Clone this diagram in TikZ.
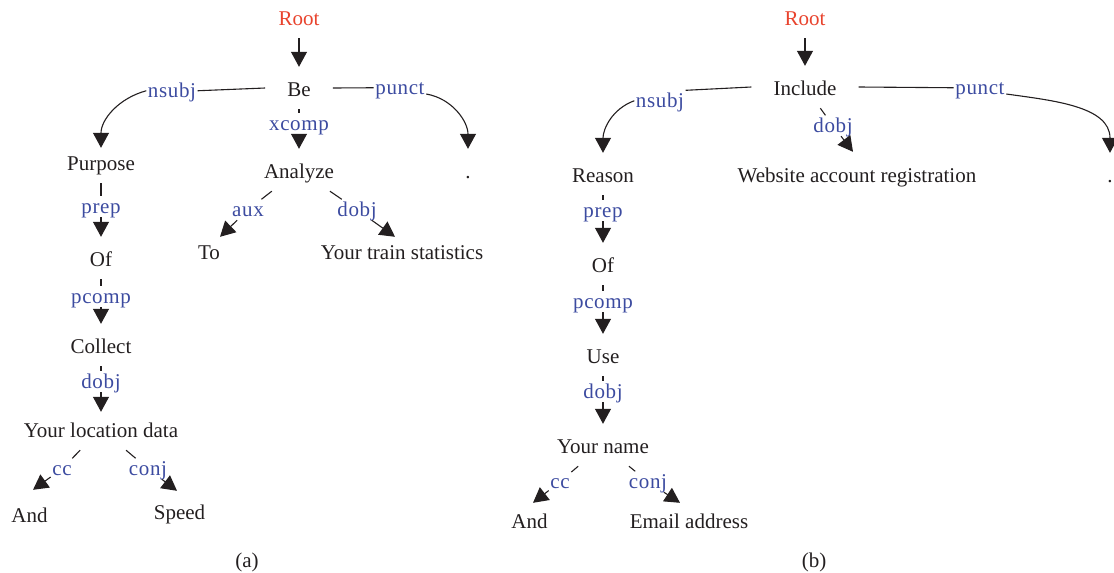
\documentclass[tikz,border=0pt]{standalone}
\usepackage{fontspec}
\setmainfont{Liberation Serif}
\newfontfamily\labfam[LetterSpace=3]{Liberation Serif}
\usetikzlibrary{arrows.meta}
\definecolor{wordc}{HTML}{231F20}
\definecolor{rootc}{HTML}{E8432D}
\definecolor{labc}{HTML}{3C4BA0}
\newcommand\wordfont{\fontsize{21}{24}\selectfont}
\newcommand\labfont{\labfam\fontsize{21}{24}\selectfont}
\tikzset{
  word/.style={font=\wordfont, text=wordc, anchor=base, text height=29pt, text depth=13pt, inner ysep=0pt, inner xsep=22pt},
  rootw/.style={word, text=rootc},
  lab/.style={font=\labfont, text=labc, anchor=base, text height=16.5pt, text depth=4pt, inner ysep=0pt, inner xsep=1.5pt},
  capt/.style={font=\wordfont, text=wordc, anchor=base, inner sep=0pt},
  dep/.style={draw=wordc, line width=1.1pt},
  arr/.style={dep, -{Triangle[length=15pt,width=16pt]}},
}
\begin{document}
\begin{tikzpicture}[x=1pt,y=-1pt]
\useasboundingbox (0,0) rectangle (1114,573);
% ---------------- panel (a)
\node[rootw] (rootA) at (299,25) {Root};
\node[word] (be) at (299,96) {Be};
\node[word] (purpose) at (101,170) {Purpose};
\node[word] (analyze) at (299,178) {Analyze};
\node[word] (dotA) at (468,178) {.};
\node[word] (ofA) at (101,266) {Of};
\node[word] (to) at (209,259) {To};
\node[word] (trainstats) at (402,259) {Your train statistics};
\node[word] (collect) at (101,353) {Collect};
\node[word] (locdata) at (101,437) {Your location data};
\node[word] (andA) at (29.5,522) {And};
\node[word] (speed) at (179.5,519) {Speed};
\node[lab] (nsubjA) at (172,97) {nsubj};
\node[lab] (punctA) at (400,94) {punct};
\node[lab] (xcomp) at (299,130) {xcomp};
\node[lab] (prepA) at (101,213) {prep};
\node[lab] (aux) at (248,216) {aux};
\node[lab] (dobjA1) at (357,216) {dobj};
\node[lab] (pcompA) at (101,303) {pcomp};
\node[lab] (dobjA2) at (101,388) {dobj};
\node[lab] (ccA) at (62,475) {cc};
\node[lab] (conjA) at (148,475) {conj};
\node[capt] (capA) at (247,567) {(a)};
\draw[arr] (rootA) -- (be.north);
\draw[dep] (be.west) -- (nsubjA.east);
\draw[arr] (nsubjA.west) to[out=195,in=90] ([shift={(0,7)}]purpose.north);
\draw[dep] (be.east) -- (punctA.west);
\draw[arr] (punctA.base east) to[out=-10,in=90] (dotA.north);
\draw[dep] (be) -- (xcomp);
\draw[arr] (xcomp) -- (analyze.north);
\draw[dep] (purpose) -- (prepA);
\draw[arr] (prepA) -- (ofA.north);
\draw[dep] (analyze) -- (aux);
\draw[arr] (aux) -- ([shift={(11,7)}]to.north);
\draw[dep] (analyze) -- (dobjA1);
\draw[arr] (dobjA1) -- ([shift={(-7,7)}]trainstats.north);
\draw[dep] (ofA) -- (pcompA);
\draw[arr] (pcompA) -- (collect.north);
\draw[dep] (collect) -- (dobjA2);
\draw[arr] (dobjA2) -- ([shift={(0,4)}]locdata.north);
\draw[dep] (locdata) -- (ccA);
\draw[arr] (ccA) -- ([shift={(3.5,-3)}]andA.north);
\draw[dep] (locdata) -- (conjA);
\draw[arr] (conjA) -- ([shift={(-2.5,1)}]speed.north);
% ---------------- panel (b)
\node[rootw] (rootB) at (805,25) {Root};
\node[word] (include) at (805,95) {Include};
\node[word] (reason) at (603,182) {Reason};
\node[word] (website) at (857,182) {Website account registration};
\node[word] (dotB) at (1110,182) {.};
\node[word] (ofB) at (603,272) {Of};
\node[word] (use) at (603,363) {Use};
\node[word] (yourname) at (603,453) {Your name};
\node[word] (andB) at (529.5,528) {And};
\node[word] (email) at (689,528) {Email address};
\node[lab] (nsubjB) at (660,107) {nsubj};
\node[lab] (punctB) at (980,94) {punct};
\node[lab] (dobjB1) at (833,132) {dobj};
\node[lab] (prepB) at (603,217) {prep};
\node[lab] (pcompB) at (603,308) {pcomp};
\node[lab] (dobjB2) at (603,398) {dobj};
\node[lab] (ccB) at (560,488) {cc};
\node[lab] (conjB) at (648,488) {conj};
\node[capt] (capB) at (814,567) {(b)};
\draw[arr] (rootB) -- (include.north);
\draw[dep] (include.west) -- (nsubjB.north east);
\draw[arr] (nsubjB.west) to[out=200,in=90] (reason.north);
\draw[dep] (include.east) -- (punctB.west);
\draw[arr] (punctB.base east) to[out=-8,in=90] (dotB.north);
\draw[dep] (include) -- (dobjB1);
\draw[arr] (dobjB1) -- ([shift={(-4,-1)}]website.north);
\draw[dep] (reason) -- (prepB);
\draw[arr] (prepB) -- (ofB.north);
\draw[dep] (ofB) -- (pcompB);
\draw[arr] (pcompB) -- (use.north);
\draw[dep] (use) -- (dobjB2);
\draw[arr] (dobjB2) -- (yourname.north);
\draw[dep] (yourname) -- (ccB);
\draw[arr] (ccB) -- ([shift={(3.5,4)}]andB.north);
\draw[dep] (yourname) -- (conjB);
\draw[arr] (conjB) -- ([shift={(-9,4)}]email.north);
\end{tikzpicture}
\end{document}
